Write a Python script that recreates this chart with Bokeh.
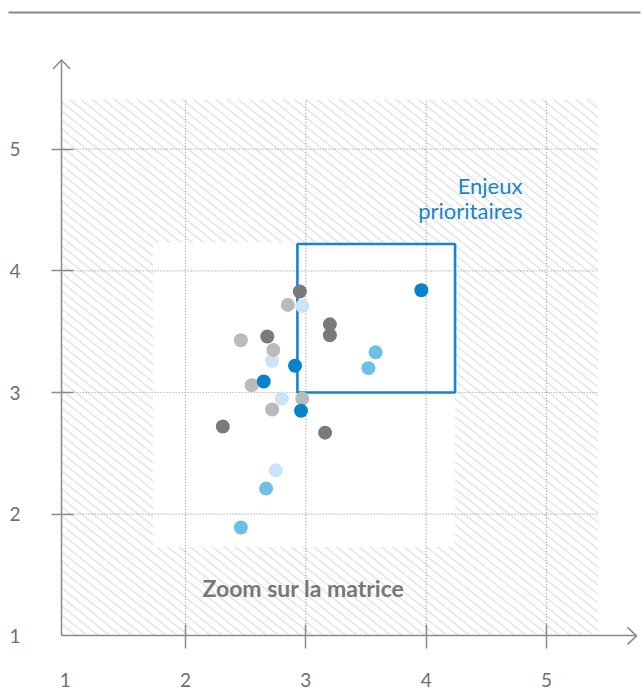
import numpy as np
from bokeh.plotting import figure
from bokeh.models import FixedTicker
from bokeh.embed import file_html
from bokeh.resources import INLINE
from bokeh.core.properties import value

# ---- data ----
tick_values = [1, 2, 3, 4, 5]
tick_marks = [2, 3, 4, 5]

bleu_fonce_x = [3.96, 2.91, 2.65, 2.96]
bleu_fonce_y = [3.84, 3.22, 3.09, 2.85]
bleu_x = [3.58, 3.52, 2.67, 2.46]
bleu_y = [3.33, 3.20, 2.21, 1.89]
bleu_clair_x = [2.97, 2.72, 2.80, 2.75]
bleu_clair_y = [3.71, 3.26, 2.95, 2.36]
gris_fonce_x = [2.95, 3.20, 3.20, 2.68, 2.31, 3.16]
gris_fonce_y = [3.83, 3.56, 3.47, 3.46, 2.72, 2.67]
gris_clair_x = [2.85, 2.46, 2.73, 2.55, 2.97, 2.72]
gris_clair_y = [3.72, 3.43, 3.35, 3.06, 2.95, 2.86]

zone_matrice = dict(left=0.97, right=5.43, bottom=1.0, top=5.41)
zone_zoom = dict(left=1.73, right=4.24, bottom=1.73, top=4.23)
zone_prioritaire = dict(left=2.93, right=4.24, bottom=3.0, top=4.22)

label_prioritaire = ["Enjeux", "prioritaires"]
label_zoom = "Zoom sur la matrice"

# ---- layout constants ----
PX = 120.33   # pixels per x unit
PY = 121.67   # pixels per y unit
X0, X1 = 2 - 185 / PX, 2 + 457 / PX
Y0, Y1 = 3 - 300 / PY, 3 + 392 / PY
AX_X = 0.97          # position of vertical axis
AX_Y = 1.0           # position of horizontal axis
TIP_X = 2 + 451 / PX
TIP_Y = 3 + 332.5 / PY

AXIS = "#8a8a8a"
TICKTXT = "#6f6f6f"
BLUE = "#1785cc"

p = figure(width=642, height=692, x_range=(X0, X1), y_range=(Y0, Y1),
           output_backend="svg", toolbar_location=None, min_border=0)
p.outline_line_color = None
p.grid.visible = False
p.background_fill_color = "white"
p.border_fill_color = "white"

for ax in (p.xaxis[0], p.yaxis[0]):
    ax.ticker = FixedTicker(ticks=tick_values, minor_ticks=tick_marks)
    ax.axis_line_color = AXIS
    ax.axis_line_width = 1.5
    ax.major_tick_line_color = None
    ax.major_tick_in = 0
    ax.major_tick_out = 0
    ax.minor_tick_line_color = AXIS
    ax.minor_tick_line_width = 1.5
    ax.major_label_text_font = "Lato"
    ax.major_label_text_font_size = "19px"
    ax.major_label_text_color = TICKTXT
p.xaxis.fixed_location = AX_Y
p.yaxis.fixed_location = AX_X
p.xaxis.bounds = (AX_X, TIP_X)
p.yaxis.bounds = (AX_Y, TIP_Y)
p.xaxis.minor_tick_in = 11
p.xaxis.minor_tick_out = 13
p.xaxis.major_label_standoff = 24
p.yaxis.minor_tick_in = 12
p.yaxis.minor_tick_out = 10
p.yaxis.major_label_standoff = 31

# ---- decorative diagonal hatching of the matrix area ----
# lines in screen space: py = 0.8*px + c, spaced 9 px vertically
L = 185 + (zone_matrice["left"] - 2) * PX
R = 185 + (zone_matrice["right"] - 2) * PX
T = 392 - (zone_matrice["top"] - 3) * PY
B = 392 - (zone_matrice["bottom"] - 3) * PY
hx0, hy0, hx1, hy1 = [], [], [], []
for c in np.arange(T - 0.8 * R, B - 0.8 * L, 9.0):
    a = max(L, (T - c) / 0.8)
    b = min(R, (B - c) / 0.8)
    if b > a:
        hx0.append(2 + (a - 185) / PX)
        hy0.append(3 + (392 - (0.8 * a + c)) / PY)
        hx1.append(2 + (b - 185) / PX)
        hy1.append(3 + (392 - (0.8 * b + c)) / PY)
p.segment(x0=hx0, y0=hy0, x1=hx1, y1=hy1, line_color="#e6e6e6", line_width=1.6)

# zoomed area (white)
p.quad(left=[zone_zoom["left"]], right=[zone_zoom["right"]],
       bottom=[zone_zoom["bottom"]], top=[zone_zoom["top"]],
       fill_color="white", line_color=None)

# dotted grid
n = len(tick_marks)
p.segment(x0=tick_marks, y0=[zone_matrice["bottom"]] * n, x1=tick_marks,
          y1=[zone_matrice["top"]] * n, line_color="#9c9c9c", line_width=1.2,
          line_dash="1 2")
p.segment(x0=[zone_matrice["left"]] * n, y0=tick_marks, x1=[zone_matrice["right"]] * n,
          y1=tick_marks, line_color="#9c9c9c", line_width=1.2, line_dash="1 2")

# top rule
p.segment(x0=[2 - 177 / PX], y0=[3 + 380 / PY], x1=[2 + 455 / PX], y1=[3 + 380 / PY],
          line_color="#878787", line_width=2)

# arrow heads (open chevrons)
wx, wy = 8.5, 9.0
p.multi_line(xs=[[AX_X - wx / PX, AX_X, AX_X + wx / PX],
                 [TIP_X - wy / PX, TIP_X, TIP_X - wy / PX]],
             ys=[[TIP_Y - wy / PY, TIP_Y, TIP_Y - wy / PY],
                 [AX_Y + wx / PY, AX_Y, AX_Y - wx / PY]],
             line_color=AXIS, line_width=1.5)

# priority box
p.quad(left=[zone_prioritaire["left"]], right=[zone_prioritaire["right"]],
       bottom=[zone_prioritaire["bottom"]], top=[zone_prioritaire["top"]],
       fill_color=None, line_color=BLUE, line_width=2.6)

# points
S = 14
p.scatter(bleu_clair_x, bleu_clair_y, size=S, color="#c9e4f6", line_color=None)
p.scatter(gris_clair_x, gris_clair_y, size=S, color="#b9babc", line_color=None)
p.scatter(gris_fonce_x, gris_fonce_y, size=S, color="#7a7a7c", line_color=None)
p.scatter(bleu_x, bleu_y, size=S, color="#6cc0e7", line_color=None)
p.scatter(bleu_fonce_x, bleu_fonce_y, size=S, color="#0882cc", line_color=None)

# texts
p.text(x=[4.80, 4.80], y=[4.70, 4.495], text=label_prioritaire,
       text_align="right", text_baseline="middle", text_font=value("Lato"),
       text_font_size="22px", text_color=BLUE)
p.text(x=[2.98], y=[1.39], text=[label_zoom], text_align="center",
       text_baseline="middle", text_font=value("Lato"), text_font_style="bold",
       text_font_size="23px", text_color="#77777a")

open("out.html", "w").write(file_html(p, INLINE))
